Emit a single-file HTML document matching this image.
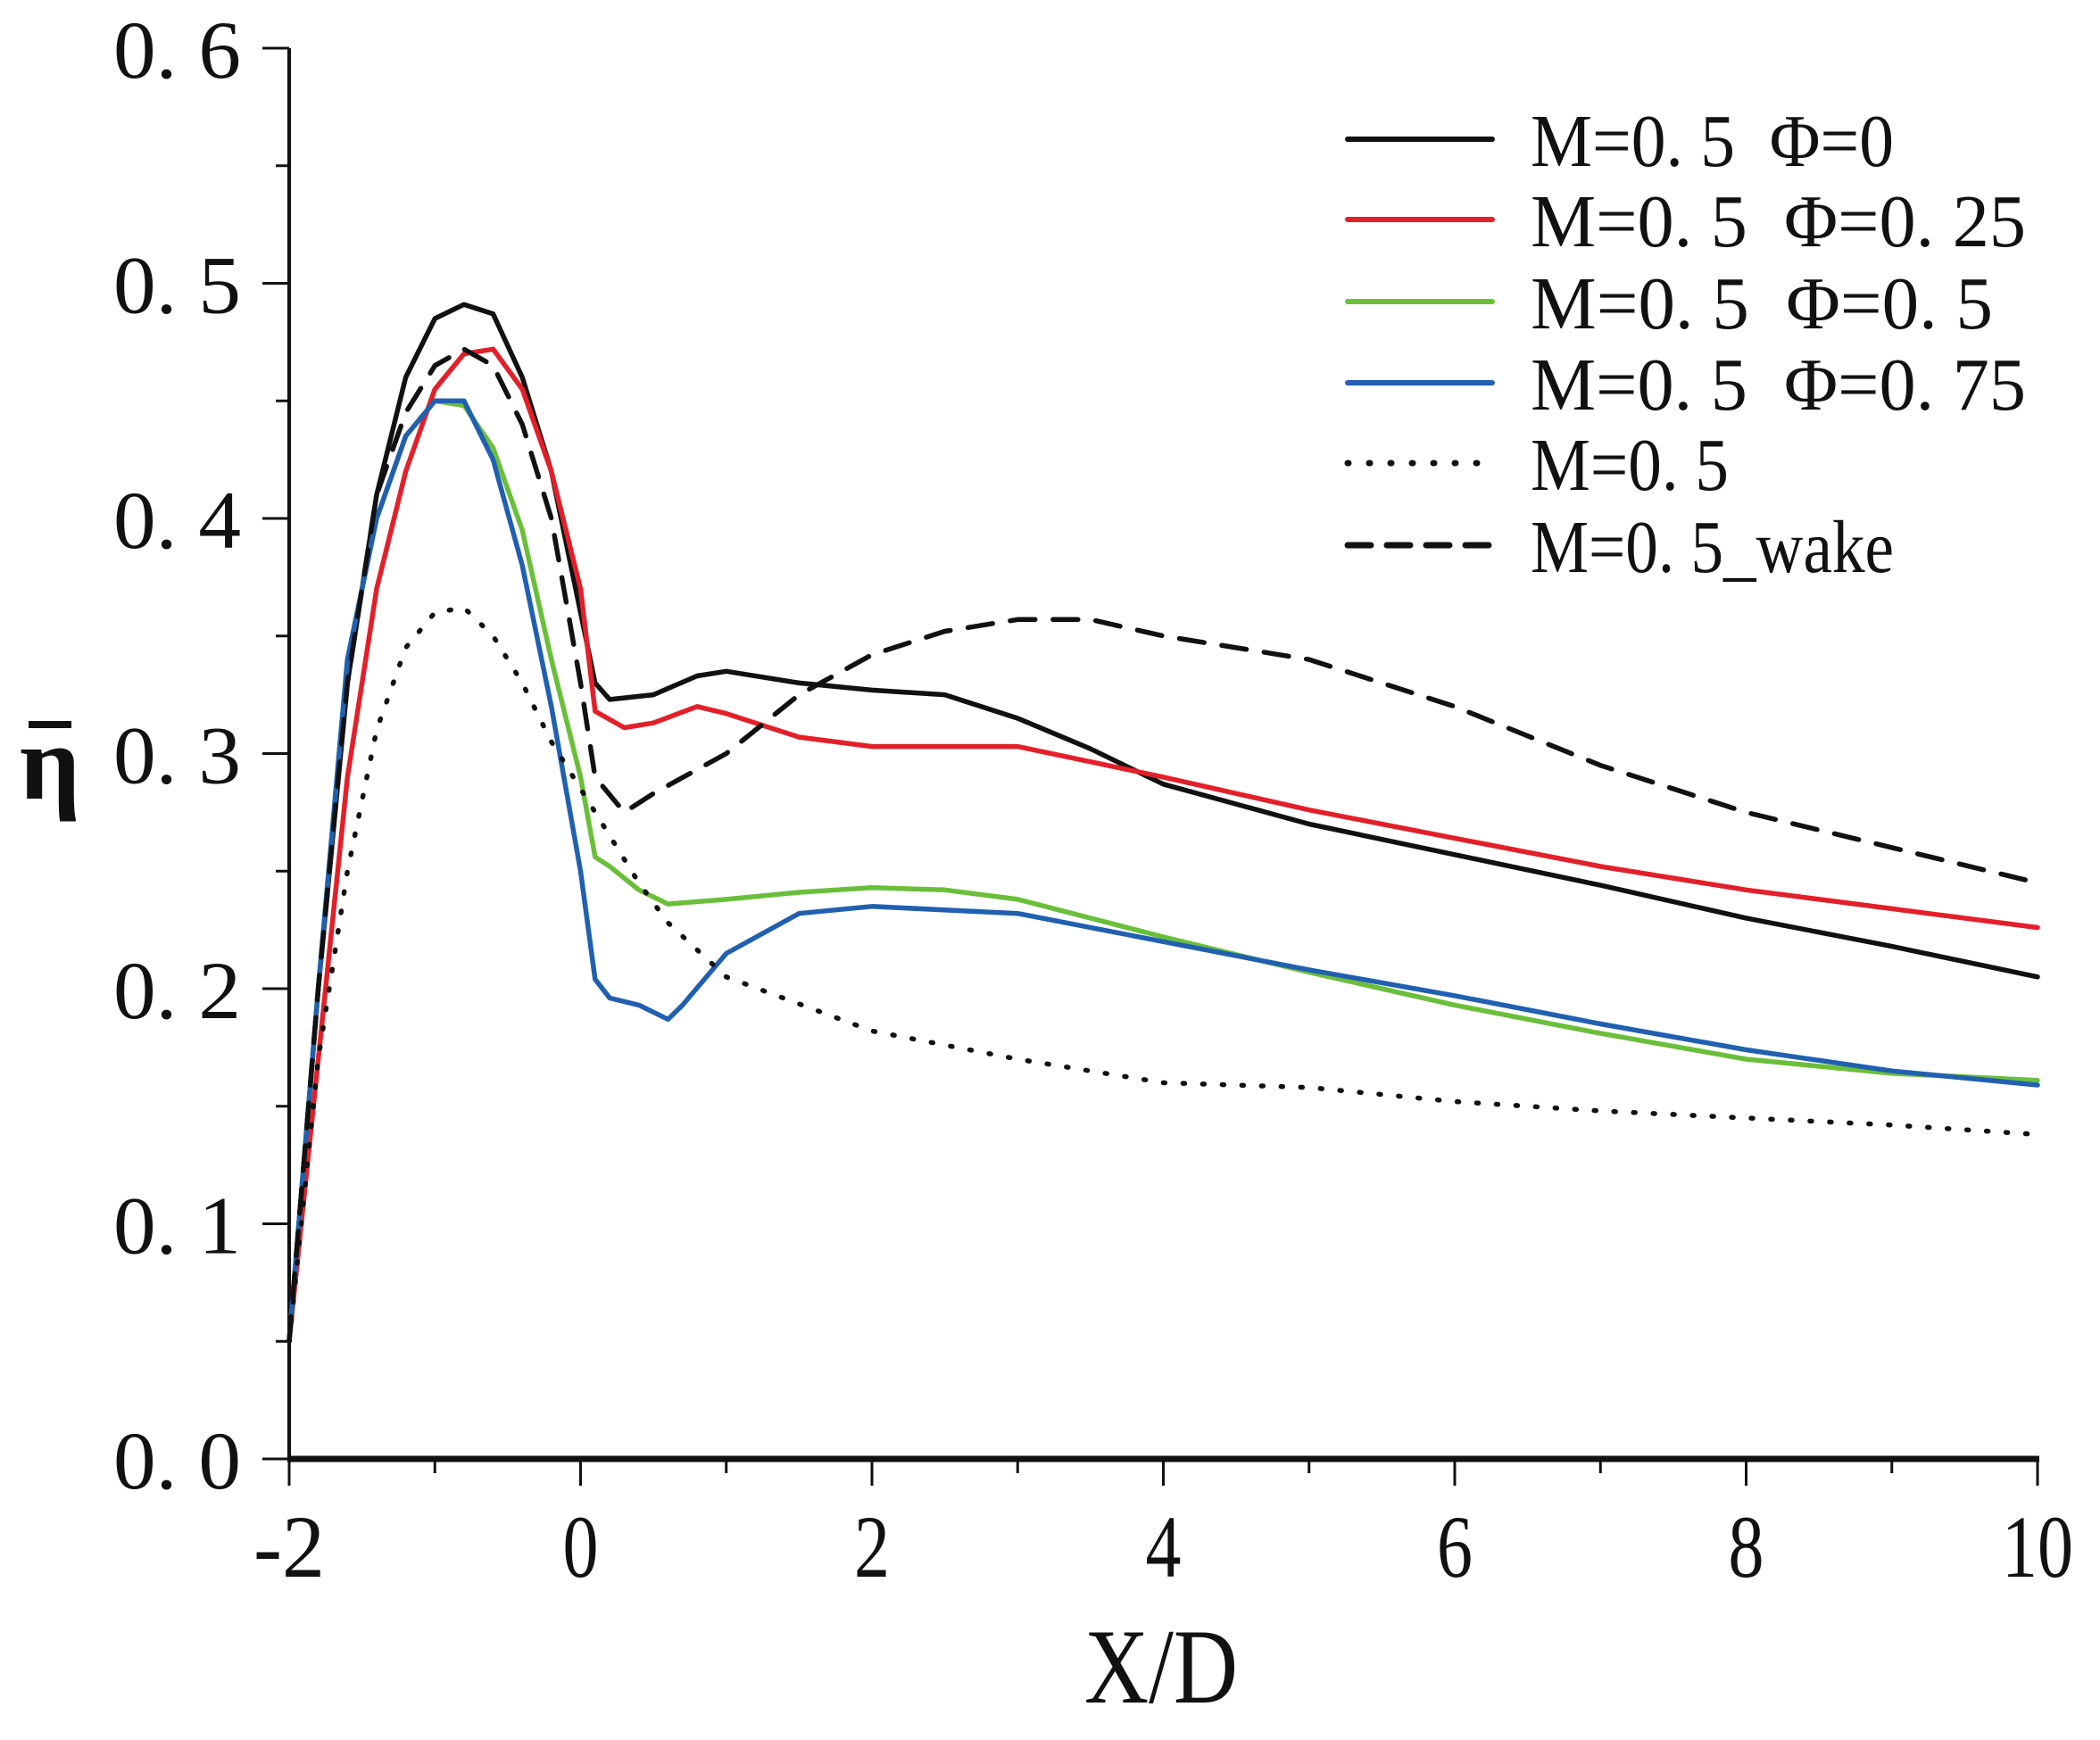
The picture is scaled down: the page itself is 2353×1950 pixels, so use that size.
<!DOCTYPE html>
<html><head><meta charset="utf-8"><style>
html,body{margin:0;padding:0;background:#fff;}
svg{display:block;}
text{font-family:"Liberation Serif","Noto Serif CJK SC",serif;fill:#111;white-space:pre;}
</style></head><body>
<svg id="chart" width="2353" height="1950" viewBox="0 0 2353 1950" xmlns="http://www.w3.org/2000/svg">
<g id="axes"></g>
<g id="series"></g>
<g id="legend"></g>
</svg>
<script>
const xTickLabels = ["-2","0","2","4","6","8","10"];
const yTickLabels = ["0. 0","0. 1","0. 2","0. 3","0. 4","0. 5","0. 6"];
const xBlack = [-2,-1.8,-1.6,-1.4,-1.2,-1,-0.8,-0.6,-0.4,-0.2,0,0.1,0.2,0.5,0.8,1,1.5,2,2.5,3,3.5,4,5,6,7,8,9,10];
const yBlack = [0.05,0.2,0.33,0.41,0.46,0.485,0.491,0.487,0.46,0.42,0.36,0.33,0.323,0.325,0.333,0.335,0.33,0.327,0.325,0.315,0.302,0.287,0.27,0.257,0.244,0.23,0.218,0.205];
const xRed = [-2,-1.8,-1.6,-1.4,-1.2,-1,-0.8,-0.6,-0.4,-0.2,0,0.1,0.3,0.5,0.8,1,1.5,2,3,4,5,6,7,8,9,10];
const yRed = [0.05,0.17,0.29,0.37,0.42,0.455,0.47,0.472,0.455,0.42,0.37,0.318,0.311,0.313,0.32,0.317,0.307,0.303,0.303,0.29,0.276,0.264,0.252,0.242,0.234,0.226];
const xGreen = [-2,-1.8,-1.6,-1.4,-1.2,-1,-0.8,-0.6,-0.4,-0.2,0,0.1,0.2,0.4,0.6,1,1.5,2,2.5,3,4,5,6,7,8,9,10];
const yGreen = [0.05,0.2,0.34,0.4,0.435,0.45,0.448,0.43,0.395,0.34,0.29,0.256,0.252,0.242,0.236,0.238,0.241,0.243,0.242,0.238,0.222,0.207,0.193,0.181,0.17,0.164,0.161];
const xBlue = [-2,-1.8,-1.6,-1.4,-1.2,-1,-0.8,-0.6,-0.4,-0.2,0,0.1,0.2,0.4,0.6,0.7,1,1.5,2,3,4,5,6,7,8,9,10];
const yBlue = [0.05,0.2,0.34,0.4,0.435,0.45,0.45,0.425,0.38,0.32,0.25,0.204,0.196,0.193,0.187,0.193,0.215,0.232,0.235,0.232,0.22,0.208,0.197,0.185,0.174,0.165,0.159];
const xDot = [-2,-1.8,-1.6,-1.4,-1.2,-1,-0.8,-0.6,-0.4,-0.2,0,0.2,0.4,0.6,1,2,3,4,5,6,7,8,9,10];
const yDot = [0.05,0.17,0.25,0.31,0.345,0.36,0.362,0.35,0.33,0.305,0.285,0.265,0.245,0.228,0.205,0.182,0.17,0.16,0.158,0.152,0.148,0.145,0.142,0.138];
const xWake = [-2,-1.8,-1.6,-1.4,-1.2,-1,-0.8,-0.6,-0.4,-0.2,0,0.1,0.3,0.5,1,1.5,2,2.5,3,3.5,4,5,6,7,8,9,10];
const yWake = [0.05,0.2,0.33,0.41,0.445,0.465,0.472,0.465,0.44,0.4,0.33,0.29,0.275,0.283,0.3,0.325,0.342,0.352,0.357,0.357,0.35,0.34,0.32,0.295,0.275,0.26,0.245];
const legendLabels = ["M=0. 5  \u03A6=0","M=0. 5  \u03A6=0. 25","M=0. 5  \u03A6=0. 5","M=0. 5  \u03A6=0. 75","M=0. 5","M=0. 5_wake"];

const NS="http://www.w3.org/2000/svg";
const X0=324, X1=2283, Y0=1635, Y1=54;
const sx=v=>X0+(v+2)/12*(X1-X0);
const sy=v=>Y0-v/0.6*(Y0-Y1);
function mk(tag,attrs,parent){const e=document.createElementNS(NS,tag);for(const k in attrs)e.setAttribute(k,attrs[k]);parent.appendChild(e);return e;}
const axes=document.getElementById('axes');
let e;
e=mk('line',{x1:X0,y1:Y0+4,x2:X0,y2:Y1,stroke:'#111','stroke-width':4},axes);


e=mk('line',{x1:X0-2,y1:Y0,x2:X1+2,y2:Y0,stroke:'#111','stroke-width':7},axes);


for(let i=0;i<=12;i++){
  const v=-2+i, x=sx(v), maj=i%2===0;
  e=mk('line',{x1:x,y1:Y0,x2:x,y2:Y0+(maj?30:16),stroke:'#111','stroke-width':3},axes);
  
  
}
xTickLabels.forEach((t,i)=>{
  const x=sx(-2+2*i);
  e=mk('text',{x:x,y:1767,'font-size':100,'text-anchor':'middle',textLength:t.length*40,lengthAdjust:'spacingAndGlyphs'},axes);
  e.textContent=t;
  
  
});
for(let i=0;i<=12;i++){
  const v=i*0.05, y=sy(v), maj=i%2===0;
  e=mk('line',{x1:X0,y1:y,x2:X0-(maj?30:15),y2:y,stroke:'#111','stroke-width':3},axes);
  
  
}
yTickLabels.forEach((t,i)=>{
  const y=sy(i*0.1);
  e=mk('text',{x:127,y:y+33,'font-size':92,textLength:143,lengthAdjust:'spacingAndGlyphs'},axes);
  e.textContent=t;
  
  
});
e=mk('text',{x:1215,y:1908,'font-size':120,textLength:172,lengthAdjust:'spacingAndGlyphs'},axes);
e.textContent='X/D';


e=mk('text',{x:56,y:895,'font-size':120,'text-anchor':'middle','font-weight':'bold','font-family':'"DejaVu Sans",sans-serif'},axes);
e.textContent='\u03B7';


e=mk('line',{x1:32,y1:812,x2:80,y2:812,stroke:'#111','stroke-width':8},axes);



const styles=[
 {xs:xBlack,ys:yBlack,c:'#111',d:'',w:5.5,n:'series-phi-0'},
 {xs:xRed,ys:yRed,c:'#e3202a',d:'',w:5.5,n:'series-phi-0-25'},
 {xs:xGreen,ys:yGreen,c:'#6abf3a',d:'',w:5.5,n:'series-phi-0-5'},
 {xs:xBlue,ys:yBlue,c:'#2160b0',d:'',w:5.5,n:'series-phi-0-75'},
 {xs:xDot,ys:yDot,c:'#111',d:'2 20',w:5.5,n:'series-m-0-5'},
 {xs:xWake,ys:yWake,c:'#111',d:'28 20',w:5.5,n:'series-m-0-5-wake'}
];
const sg=document.getElementById('series');
const lg=document.getElementById('legend');
const rowY=[156,246,338,429,519,611];
styles.forEach((s,i)=>{
  const pts=s.xs.map((x,j)=>sx(x).toFixed(1)+','+sy(s.ys[j]).toFixed(1)).join(' ');
  e=mk('polyline',{points:pts,fill:'none',stroke:s.c,'stroke-width':s.w,'stroke-linejoin':'round','stroke-linecap':'round'},sg);
  if(s.d)e.setAttribute('stroke-dasharray',s.d);
  
  
  const y=rowY[i];
  e=mk('line',{x1:1510,y1:y,x2:1672,y2:y,stroke:s.c,'stroke-width':i<4?6:7,'stroke-linecap':'round'},lg);
  if(s.d)e.setAttribute('stroke-dasharray',i===4?'1 23':'26 18');
  
  
  const t=legendLabels[i];
  e=mk('text',{x:1715,y:y+30,'font-size':84,textLength:t.length*37,lengthAdjust:'spacingAndGlyphs'},lg);
  e.setAttributeNS('http://www.w3.org/XML/1998/namespace','xml:space','preserve');
  e.textContent=t;
  
  
});
</script>
</body></html>
